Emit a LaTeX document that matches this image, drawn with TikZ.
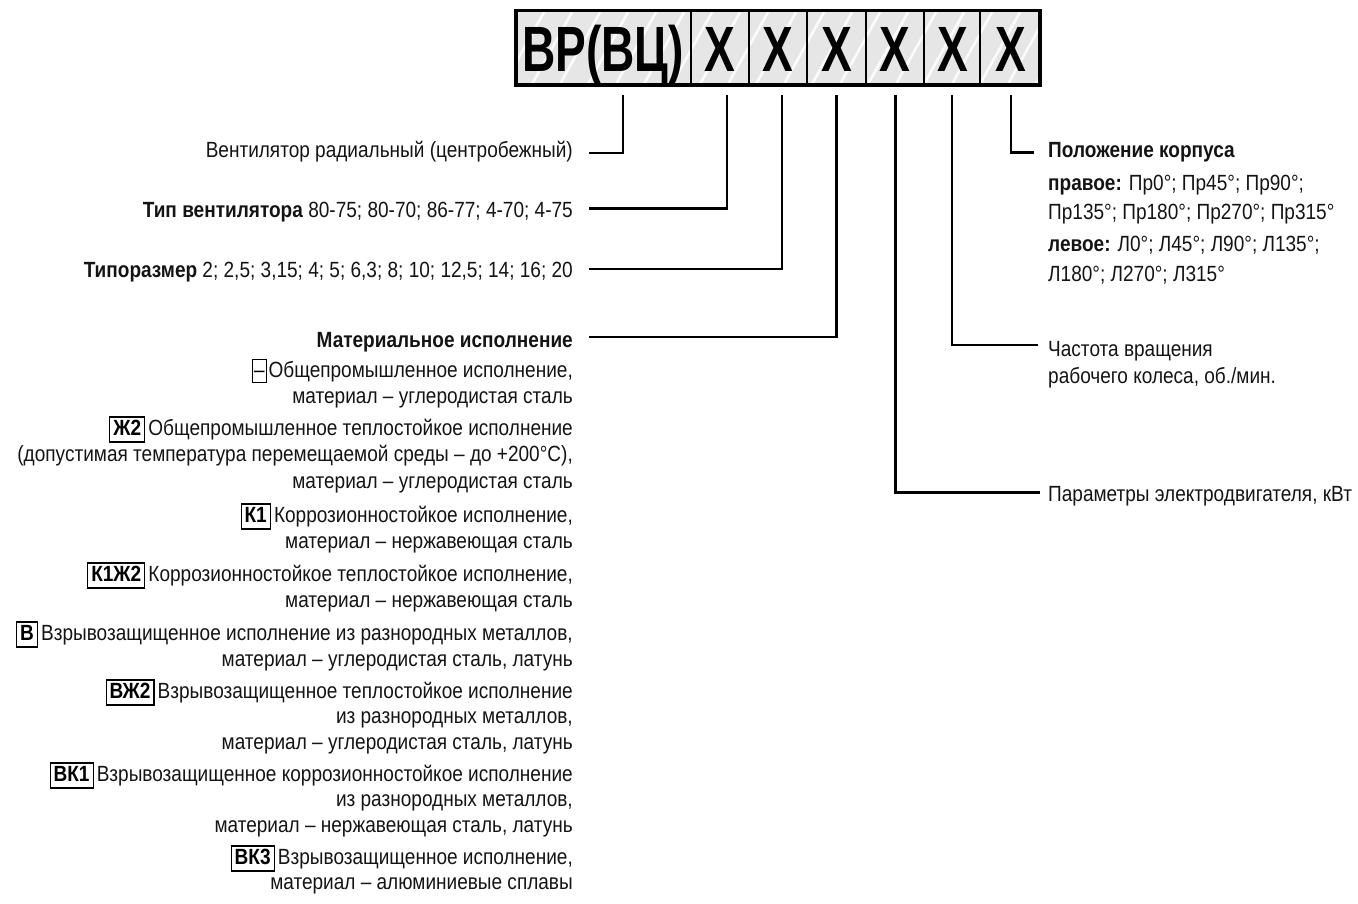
\documentclass[tikz,border=0pt]{standalone}
\usepackage{fontspec}
\setmainfont{Liberation Sans}[FakeStretch=0.865]
\newfontfamily\hdrfont{Liberation Sans}[FakeStretch=0.72]
\definecolor{hdrfill}{HTML}{E6E6E6}
\definecolor{txt}{HTML}{141414}
\tikzset{
  lbl/.style={inner sep=0pt, font=\fontsize{22}{25}\selectfont, text=txt},
  hdrtxt/.style={inner sep=0pt, font=\hdrfont\fontsize{64}{64}\selectfont\bfseries, anchor=base},
  codebox/.style={draw=black, line width=1.1pt, inner xsep=3.5pt, inner ysep=2pt,
     text height=16pt, text depth=5pt, font=\fontsize{22}{25}\selectfont\bfseries, anchor=base east},
  conn/.style={line width=2.4pt, line join=miter},
}
\begin{document}
\begin{tikzpicture}[x=1pt,y=-1pt]
\useasboundingbox (0,0) rectangle (1358,904);
% header
\fill[hdrfill] (516,10.5) rectangle (1039.7,85.3);
\begin{scope}
\clip (516,10.5) rectangle (1039.7,85.3);
\foreach \i in {0,...,22}
  \draw[white, line width=2.6pt, opacity=0.85] (470+\i*28,95) -- ++(50,-90);
\end{scope}
\foreach \xx in {691,749.2,807.4,865.6,923.8,980}
  \draw[line width=2pt] (\xx,10.5) -- (\xx,85.3);
\draw[line width=3.8pt] (516,10.5) rectangle (1039.7,85.3);
\node[hdrtxt] (c0) at (603,72) {ВР(ВЦ)};
\node[hdrtxt] (c1) at (720.1,72) {Х};
\node[hdrtxt] (c2) at (778.3,72) {Х};
\node[hdrtxt] (c3) at (836.5,72) {Х};
\node[hdrtxt] (c4) at (894.7,72) {Х};
\node[hdrtxt] (c5) at (952.9,72) {Х};
\node[hdrtxt] (c6) at (1010.5,72) {Х};
% connector ends
\coordinate (t0) at (623,95);
\coordinate (t1) at (727,95);
\coordinate (t2) at (782,95);
\coordinate (t3) at (836.5,95);
\coordinate (t4) at (895.5,95);
\coordinate (t5) at (952,95);
\coordinate (t6) at (1011,95);
\coordinate (e0) at (589,153);
\coordinate (e1) at (589,208.5);
\coordinate (e2) at (589,269);
\coordinate (e3) at (589,337);
\coordinate (e4) at (1040,492.5);
\coordinate (e5) at (1038,345);
\coordinate (e6) at (1034,152.7);
\draw[conn] (t0) |- (e0);
\draw[conn] (t1) |- (e1);
\draw[conn] (t2) |- (e2);
\draw[conn] (t3) |- (e3);
\draw[conn] (t4) |- (e4);
\draw[conn] (t5) |- (e5);
\draw[conn] (t6) |- (e6);
% left labels
\node[lbl, anchor=base east] (L1) at (573,158) {Вентилятор радиальный (центробежный)};
\node[lbl, anchor=base east] (L2) at (573,218) {\textbf{Тип вентилятора} 80-75; 80-70; 86-77; 4-70; 4-75};
\node[lbl, anchor=base east] (L3) at (573,278) {\textbf{Типоразмер} 2; 2,5; 3,15; 4; 5; 6,3; 8; 10; 12,5; 14; 16; 20};
\node[lbl, anchor=base east] (L4) at (573,347) {\textbf{Материальное исполнение}};
% materials
\node[lbl, anchor=base east] (m1a) at (573,377) {Общепромышленное исполнение,};
\node[codebox, inner xsep=0pt, minimum width=14pt, line width=0.9pt, text height=16pt, text depth=3pt, font=\fontsize{22}{25}\selectfont] (k1) at ([xshift=-1.5pt]m1a.base west) {–};
\node[lbl, anchor=base east] (m1b) at (573,403) {материал – углеродистая сталь};
\node[lbl, anchor=base east] (m2a) at (573,435) {Общепромышленное теплостойкое исполнение};
\node[codebox] (k2) at ([xshift=-3pt]m2a.base west) {Ж2};
\node[lbl, anchor=base east] (m2b) at (573,461) {(допустимая температура перемещаемой среды – до +200°C),};
\node[lbl, anchor=base east] (m2c) at (573,488) {материал – углеродистая сталь};
\node[lbl, anchor=base east] (m3a) at (573,522) {Коррозионностойкое исполнение,};
\node[codebox] (k3) at ([xshift=-3pt]m3a.base west) {К1};
\node[lbl, anchor=base east] (m3b) at (573,548) {материал – нержавеющая сталь};
\node[lbl, anchor=base east] (m4a) at (573,581) {Коррозионностойкое теплостойкое исполнение,};
\node[codebox] (k4) at ([xshift=-3pt]m4a.base west) {К1Ж2};
\node[lbl, anchor=base east] (m4b) at (573,607) {материал – нержавеющая сталь};
\node[lbl, anchor=base east] (m5a) at (573,640) {Взрывозащищенное исполнение из разнородных металлов,};
\node[codebox] (k5) at ([xshift=-3pt]m5a.base west) {В};
\node[lbl, anchor=base east] (m5b) at (573,666) {материал – углеродистая сталь, латунь};
\node[lbl, anchor=base east] (m6a) at (573,698) {Взрывозащищенное теплостойкое исполнение};
\node[codebox] (k6) at ([xshift=-3pt]m6a.base west) {ВЖ2};
\node[lbl, anchor=base east] (m6b) at (573,723) {из разнородных металлов,};
\node[lbl, anchor=base east] (m6c) at (573,749) {материал – углеродистая сталь, латунь};
\node[lbl, anchor=base east] (m7a) at (573,781) {Взрывозащищенное коррозионностойкое исполнение};
\node[codebox] (k7) at ([xshift=-3pt]m7a.base west) {ВК1};
\node[lbl, anchor=base east] (m7b) at (573,806) {из разнородных металлов,};
\node[lbl, anchor=base east] (m7c) at (573,832) {материал – нержавеющая сталь, латунь};
\node[lbl, anchor=base east] (m8a) at (573,864) {Взрывозащищенное исполнение,};
\node[codebox] (k8) at ([xshift=-3pt]m8a.base west) {ВК3};
\node[lbl, anchor=base east] (m8b) at (573,889) {материал – алюминиевые сплавы};
% right labels
\node[lbl, anchor=base west] (r1) at (1048,158) {\textbf{Положение корпуса}};
\node[lbl, anchor=base west] (r2) at (1048,191) {\textbf{правое:} Пр0°; Пр45°; Пр90°;};
\node[lbl, anchor=base west] (r3) at (1048,220) {Пр135°; Пр180°; Пр270°; Пр315°};
\node[lbl, anchor=base west] (r4) at (1048,252) {\textbf{левое:} Л0°; Л45°; Л90°; Л135°;};
\node[lbl, anchor=base west] (r5) at (1048,281) {Л180°; Л270°; Л315°};
\node[lbl, anchor=base west] (r6) at (1048,356) {Частота вращения};
\node[lbl, anchor=base west] (r7) at (1048,383) {рабочего колеса, об./мин.};
\node[lbl, anchor=base west] (r8) at (1048,501) {Параметры электродвигателя, кВт};
\end{tikzpicture}
\end{document}
